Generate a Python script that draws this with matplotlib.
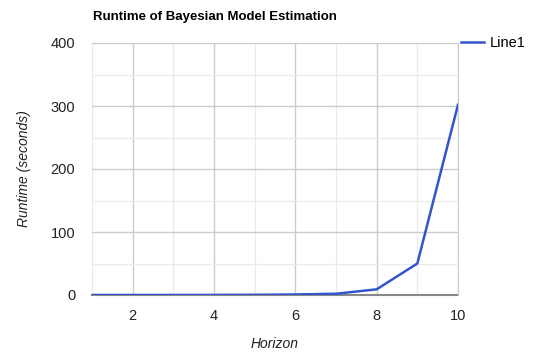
import matplotlib.pyplot as plt
from matplotlib.ticker import MultipleLocator

plt.rcParams['font.family'] = ['Liberation Sans', 'DejaVu Sans']

horizon = [1, 2, 3, 4, 5, 6, 7, 8, 9, 10]
runtime = [0.01, 0.02, 0.05, 0.1, 0.3, 0.8, 2, 9, 50, 302]
x_ticks = [2, 4, 6, 8, 10]
y_ticks = [0, 100, 200, 300, 400]

fig = plt.figure(figsize=(5.38, 3.52), dpi=100)
ax = fig.add_axes([92 / 538, 57 / 352, 366 / 538, 252 / 352])

ax.plot(horizon, runtime, color='#3355cc', lw=1.8, label='Line1', zorder=3)

ax.set_xlim(1, 10)
ax.set_ylim(0, 400)
ax.set_xticks(x_ticks)
ax.set_yticks(y_ticks)
ax.xaxis.set_minor_locator(MultipleLocator(1))
ax.yaxis.set_minor_locator(MultipleLocator(50))
ax.grid(which='major', color='#cccccc', lw=1)
ax.grid(which='minor', color='#ebebeb', lw=1)
ax.set_axisbelow(True)
ax.tick_params(which='both', length=0, labelsize=10.5, labelcolor='#222222')
ax.tick_params(axis='x', pad=10)
ax.tick_params(axis='y', pad=12)

for side in ['left', 'top']:
    ax.spines[side].set_visible(False)
ax.spines['right'].set_color('#cccccc')
ax.spines['bottom'].set_color('#888888')
ax.spines['bottom'].set_linewidth(1.5)
ax.spines['bottom'].set_zorder(2)

# axis titles placed by hand, like the original
fig.text(275 / 538, 1 - 344 / 352, 'Horizon', style='italic', fontsize=10,
         color='#222222', ha='center', va='center')
ax.set_ylabel('Runtime (seconds)', style='italic', fontsize=10, color='#222222', labelpad=14)

fig.text(93 / 538, 1 - 17 / 352, 'Runtime of Bayesian Model Estimation', fontsize=9.5,
         fontweight='bold', ha='left', va='center', color='#000000')

ax.legend(loc='upper left', bbox_to_anchor=(1.0, 1.04), frameon=False, fontsize=10.5,
          handlelength=1.6, handletextpad=0.4, borderaxespad=0.0, borderpad=0.2)

fig.savefig('out.png', dpi=100)
